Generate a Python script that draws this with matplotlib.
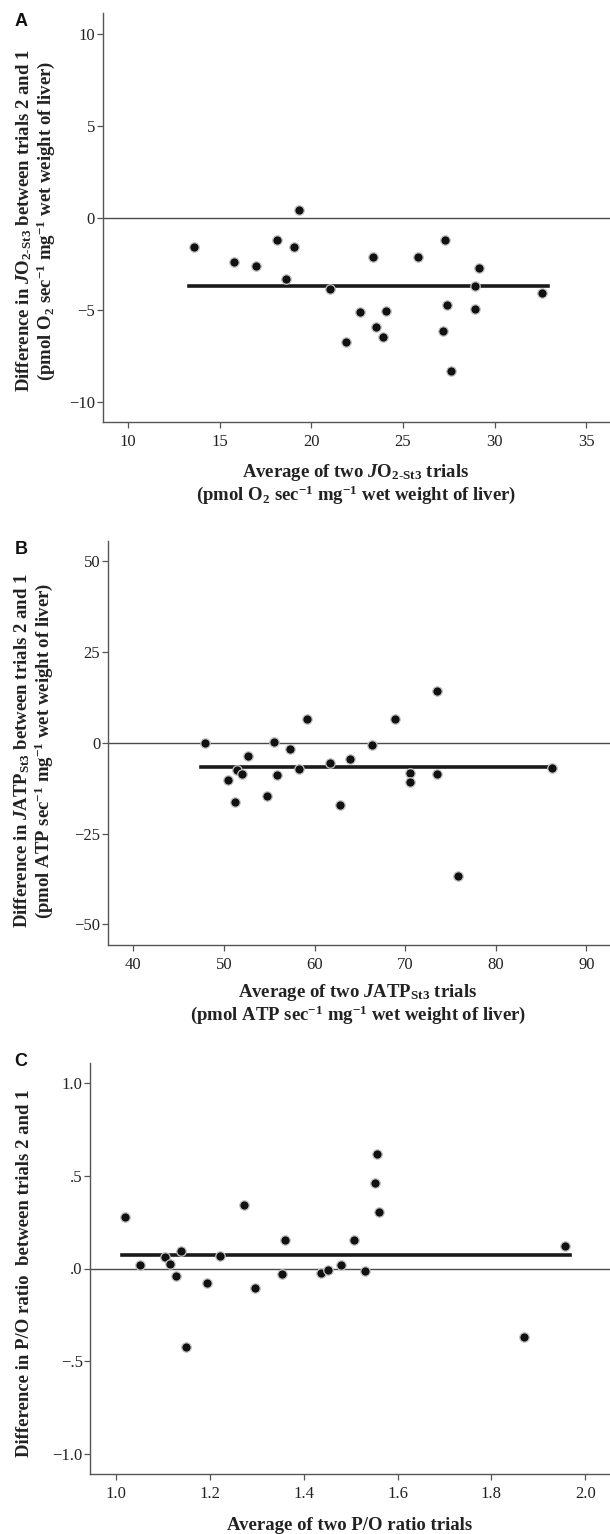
import numpy as np
import matplotlib
matplotlib.use("Agg")
import matplotlib.pyplot as plt

# ---------------------------------------------
# Bland-Altman data
# ---------------------------------------------

# Panel A: JO2-St3 (pmol O2 / s / mg)
jo2_avg = [19.34, 18.11, 19.04, 27.30, 13.61, 15.77, 16.96, 18.62, 21.04, 23.35,
           25.82, 29.13, 28.96, 32.60, 22.67, 24.08, 23.52, 23.93, 21.87, 27.41,
           28.92, 27.18, 27.64]
jo2_diff = [0.42, -1.21, -1.61, -1.21, -1.61, -2.40, -2.65, -3.33, -3.87, -2.13,
            -2.13, -2.73, -3.69, -4.09, -5.15, -5.05, -5.95, -6.51, -6.75, -4.76,
            -4.96, -6.13, -8.35]
jo2_span = [13.35, 32.9]

# Panel B: JATP-St3 (pmol ATP / s / mg)
atp_avg = [47.95, 55.56, 59.17, 68.89, 73.53, 57.33, 66.31, 52.60, 51.39, 50.45,
           51.95, 51.18, 54.79, 55.82, 58.31, 61.67, 63.86, 62.83, 70.57, 70.52,
           73.53, 86.17, 75.81]
atp_diff = [0.0, 0.36, 6.66, 6.66, 14.23, -1.64, -0.55, -3.74, -7.39, -10.13,
            -8.67, -16.42, -14.51, -8.85, -7.21, -5.66, -4.47, -17.15, -8.30, -10.86,
            -8.49, -7.03, -36.77]
atp_span = [47.5, 86.2]

# Panel C: P/O ratio
po_avg = [1.020, 1.050, 1.104, 1.114, 1.139, 1.128, 1.222, 1.272, 1.361, 1.354,
          1.437, 1.451, 1.479, 1.508, 1.530, 1.551, 1.557, 1.560, 1.958, 1.193,
          1.297, 1.148, 1.870]
po_diff = [0.277, 0.021, 0.064, 0.025, 0.097, -0.041, 0.068, 0.341, 0.152, -0.029,
           -0.023, -0.007, 0.020, 0.152, -0.013, 0.463, 0.620, 0.307, 0.120, -0.079,
           -0.105, -0.422, -0.370]
po_span = [1.012, 1.967]

po_yticks = [-1.0, -0.5, 0.0, 0.5, 1.0]
po_yticklabels = ["\u22121.0", "\u2212.5", ".0", ".5", "1.0"]

W, H = 610, 1534

plt.rcParams["font.family"] = ["Liberation Serif", "DejaVu Serif"]
plt.rcParams["mathtext.fontset"] = "custom"
plt.rcParams["mathtext.rm"] = "Liberation Serif:bold"
plt.rcParams["mathtext.bf"] = "Liberation Serif:bold"
plt.rcParams["mathtext.it"] = "Liberation Serif:bold:italic"
plt.rcParams["mathtext.default"] = "rm"

fig = plt.figure(figsize=(W / 100, H / 100), dpi=100)


def px_text(x, y, s, **kw):
    fig.text(x / W, 1 - y / H, s, **kw)


def make_axes(left, top, bottom):
    # pixel box -> figure fraction, right edge runs to the figure border
    return fig.add_axes([left / W, 1 - bottom / H, (W - left) / W, (bottom - top) / H])


def bland_altman(ax, avg, diff, span):
    ax.axhline(0, color="#4a4a4a", lw=1.0, zorder=1)
    ax.plot(span, [np.mean(diff)] * 2, color="#1a1a1a", lw=2.6, zorder=2)
    ax.plot(avg, diff, "o", ms=6.8, mfc="#111111", mec="#c4c4c4", mew=0.9, zorder=3)
    for s in ["top", "right"]:
        ax.spines[s].set_visible(False)
    for s in ["left", "bottom"]:
        ax.spines[s].set_color("#555555")
        ax.spines[s].set_linewidth(1.0)
    ax.tick_params(direction="out", length=4.5, width=0.9, color="#555555",
                   labelsize=12, labelcolor="#222222")
    ax.tick_params(axis="y", pad=1)
    ax.tick_params(axis="x", pad=4)


lab = dict(fontsize=13.5, fontweight="bold", color="#222222", ha="center", va="center",
           multialignment="center", linespacing=1.02)
letter = dict(fontsize=13, fontweight="bold", family="Liberation Sans", ha="center",
              va="center", color="#111111")

# ---- A
axA = make_axes(102.7, 13.3, 422)
bland_altman(axA, jo2_avg, jo2_diff, jo2_span)
axA.set_xlim(8.62, 36.3)
axA.set_ylim(-11.1, 11.1)
axA.set_xticks([10, 15, 20, 25, 30, 35])
axA.set_yticks([-10, -5, 0, 5, 10])
px_text(356, 484, "Average of two $\\mathit{J}$O$_{2\u2010St3}$ trials\n"
        "(pmol O$_2$ sec$^{\u22121}$ mg$^{\u22121}$ wet weight of liver)", **lab)
px_text(36, 221, "Difference in $\\mathit{J}$O$_{2\u2010St3}$ between trials 2 and 1\n"
        "(pmol O$_2$ sec$^{\u22121}$ mg$^{\u22121}$ wet weight of liver)", rotation=90, **lab)
px_text(21, 22, "A", **letter)

# ---- B
axB = make_axes(108, 540.7, 945)
bland_altman(axB, atp_avg, atp_diff, atp_span)
axB.set_xlim(37.2, 92.6)
axB.set_ylim(-55.7, 55.7)
axB.set_xticks([40, 50, 60, 70, 80, 90])
axB.set_yticks([-50, -25, 0, 25, 50])
px_text(358, 1004, "Average of two $\\mathit{J}$ATP$_{St3}$ trials\n"
        "(pmol ATP sec$^{\u22121}$ mg$^{\u22121}$ wet weight of liver)", **lab)
px_text(34, 751, "Difference in $\\mathit{J}$ATP$_{St3}$ between trials 2 and 1\n"
        "(pmol ATP sec$^{\u22121}$ mg$^{\u22121}$ wet weight of liver)", rotation=90, **lab)
px_text(21, 550, "B", **letter)

# ---- C
axC = make_axes(90.3, 1063, 1474)
bland_altman(axC, po_avg, po_diff, po_span)
axC.set_xlim(0.945, 2.053)
axC.set_ylim(-1.108, 1.108)
axC.set_xticks([1.0, 1.2, 1.4, 1.6, 1.8, 2.0])
axC.set_xticklabels(["1.0", "1.2", "1.4", "1.6", "1.8", "2.0"])
axC.set_yticks(po_yticks)
axC.set_yticklabels(po_yticklabels)
px_text(350, 1526, "Average of two P/O ratio trials", **lab)
px_text(25, 1273, "Difference in P/O ratio  between trials 2 and 1", rotation=90, **lab)
px_text(21, 1062, "C", **letter)

fig.savefig("out.png", dpi=100, facecolor="white")
